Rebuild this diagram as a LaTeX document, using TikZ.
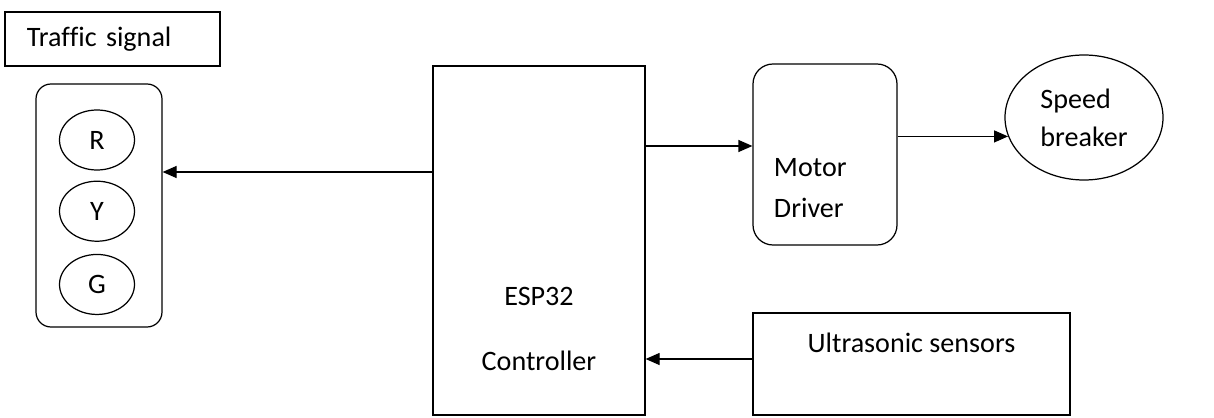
\documentclass[tikz,border=0pt]{standalone}
\usepackage{fontspec}
\setmainfont[Ligatures=CommonOff]{Carlito}
\usetikzlibrary{positioning,shapes.geometric,arrows.meta}

\begin{document}
\begin{tikzpicture}[
    line width=0.7pt,
    font=\fontsize{16}{19}\selectfont,
    >={Triangle[length=0.28cm,width=0.24cm]},
    block/.style={draw=black, rectangle, inner sep=0pt},
    lamp/.style={draw=black, ellipse, minimum width=1.5cm, minimum height=1.2cm, inner sep=0pt}]
    \useasboundingbox (0,0) rectangle (24.28,8.34);
    % NODES
    % title of the signal
    \node[block, minimum width=4.3cm, minimum height=1.08cm, text width=3.42cm, inner xsep=0.44cm, align=left] (title) at (2.25,7.56) {Traffic signal};
    % signal housing
    \node[block, rounded corners=0.3cm, minimum width=2.52cm, minimum height=4.86cm] (housing) at (1.98,4.23) {};
    % lamps
    \node[lamp] (R) at (1.94,5.54) {R};
    \node[lamp, below=0.2cm of R] (Y) {Y};
    \node[lamp, below=0.24cm of Y] (G) {G};
    % controller
    \node[block, minimum width=4.24cm, minimum height=6.98cm] (esp) at (10.78,3.53) {};
    \node[align=center] (espText) at (10.78,1.76) {ESP32\\[0.62cm]Controller};
    % motor driver
    \node[block, rounded corners=0.4cm, minimum width=2.88cm, minimum height=3.62cm] (motor) at (16.5,5.25) {};
    \node[align=left, anchor=west] (motorText) at (15.35,4.58) {Motor\\[0.15cm]Driver};
    % speed breaker
    \node[draw=black, ellipse, minimum width=3.16cm, minimum height=2.5cm, inner sep=0pt, align=left] (breaker) at (21.68,5.99) {Speed\\[0.09cm]breaker};
    % sensors
    \node[block, minimum width=6.34cm, minimum height=2.04cm] (sensor) at (18.23,1.06) {};
    \node (sensorText) at (18.23,1.48) {Ultrasonic sensors};

    % ARROWS
    \draw[->] (esp.west |- 0,4.9) -- (housing.east |- 0,4.9);
    \draw[->] (esp.east |- 0,5.42) -- (motor.west |- 0,5.42);
    \draw[->] (motor.east |- breaker.194) -- (breaker.194);
    \draw[->] (sensor.west |- 0,1.16) -- (esp.east |- 0,1.16);
\end{tikzpicture}
\end{document}
